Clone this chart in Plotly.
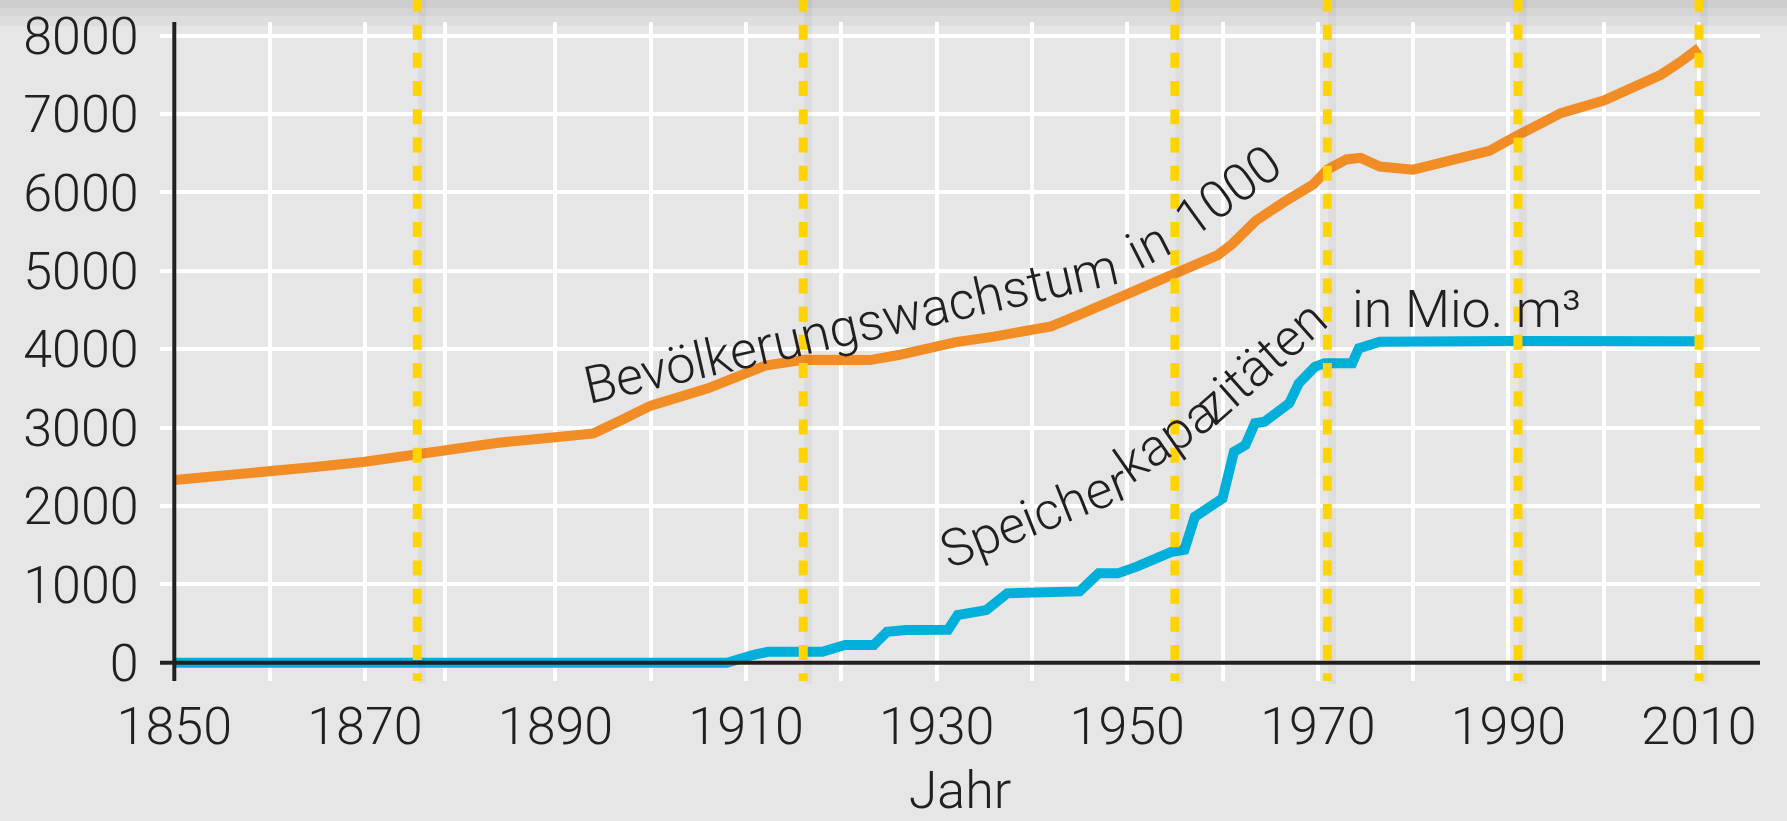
import plotly.graph_objects as go

# ---------------- data ----------------
pop_years = [1850, 1855, 1860, 1865, 1870, 1875, 1878, 1884, 1890, 1894, 1897,
             1900, 1906, 1912, 1916, 1923, 1926, 1932, 1936, 1942, 1945, 1950,
             1955, 1959.5, 1961, 1963.5, 1966.5, 1969.5, 1971, 1973, 1974.5,
             1976.5, 1980, 1984, 1988, 1991, 1995.5, 2000, 2002, 2006, 2008, 2010]
pop_values = [2330, 2380, 2436, 2500, 2564, 2658, 2710, 2806, 2875, 2926, 3100,
              3280, 3500, 3790, 3865, 3860, 3925, 4090, 4160, 4290, 4440, 4700,
              4980, 5200, 5340, 5640, 5880, 6100, 6290, 6420, 6440,
              6330, 6290, 6400, 6530, 6730, 7010, 7170, 7290, 7500, 7660, 7840]

cap_years = [1850, 1908, 1910.7, 1912.3, 1918, 1920.4, 1923.4, 1924.8, 1926.8,
             1931.2, 1932.2, 1935.2, 1937.4, 1945, 1947, 1949, 1951, 1952.8,
             1954.7, 1956, 1957.1, 1960, 1961.2, 1962.4, 1963.4, 1964.4, 1965.6,
             1967, 1968, 1969.7, 1970.7, 1973.6, 1974.3, 1976.5, 1990, 2010]
cap_values = [0, 0, 98, 140, 140, 226, 226, 395, 417,
              420, 608, 672, 885, 910, 1140, 1140, 1225, 1310,
              1416, 1440, 1862, 2097, 2691, 2777, 3054, 3074, 3202,
              3309, 3564, 3776, 3819, 3819, 4010, 4094, 4105, 4100]

event_years = [1875.5, 1916, 1955, 1971, 1991, 2010]

grid_years = [1850, 1860, 1870, 1878.4, 1890, 1900, 1910, 1920, 1930, 1940,
              1950, 1960, 1970, 1980, 1990, 2000, 2010]
label_years = [1850, 1870, 1890, 1910, 1930, 1950, 1970, 1990, 2010]
y_ticks = [0, 1000, 2000, 3000, 4000, 5000, 6000, 7000, 8000]

x_title = "Jahr"

# ---------------- styling ----------------
BG = "#e6e6e6"
ORANGE = "#f28c24"
BLUE = "#00b0da"
YELLOW = "#ffd400"
TXT = "#231f20"
FONT = "Roboto"
FS = 52

fig = go.Figure()
fig.add_trace(go.Scatter(x=cap_years, y=cap_values, mode="lines",
                         line=dict(color=BLUE, width=10), hoverinfo="skip"))
fig.add_trace(go.Scatter(x=pop_years, y=pop_values, mode="lines",
                         line=dict(color=ORANGE, width=10), hoverinfo="skip"))

tick_text = [str(int(v)) if v in label_years else "" for v in grid_years]

shapes = []
# soft top shadow
for y0 in [1.021, 1.009, 0.994]:
    shapes.append(dict(type="rect", xref="paper", yref="paper", x0=-0.11, x1=1.03,
                       y0=y0, y1=1.04, fillcolor="rgba(0,0,0,0.035)",
                       line=dict(width=0), layer="below"))
# black axis lines
shapes.append(dict(type="line", xref="x", yref="paper", x0=1850, x1=1850, y0=0, y1=1,
                   line=dict(color=TXT, width=4)))
shapes.append(dict(type="line", xref="paper", yref="y", x0=0, x1=1, y0=0, y1=0,
                   line=dict(color=TXT, width=4)))
# yellow dashed event lines with faint shadow
for yr in event_years:
    shapes.append(dict(type="line", xref="x", yref="paper", x0=yr + 0.5, x1=yr + 0.5,
                       y0=1.0388, y1=-0.004,
                       line=dict(color="rgba(0,0,0,0.035)", width=8)))
    shapes.append(dict(type="line", xref="x", yref="paper", x0=yr, x1=yr,
                       y0=1.0388, y1=0.0,
                       line=dict(color=YELLOW, width=9, dash="15px,13.2px")))

labels = [
    ("Bevölkerungswachstum", 1921.0, 4290, -12.8),
    ("in", 1952.2, 5328, -27),
    ("1000", 1960.6, 6008, -36),
    ("Speicher", 1940.3, 1870, -21.7),
    ("kapa", 1954.1, 2860, -35),
    ("zitäten", 1964.0, 3835, -41.5),
    ("in Mio. m³", 1985.6, 4500, 0),
]
annotations = []
for txt, ax_, ay_, ang in labels:
    annotations.append(dict(text=txt, x=ax_, y=ay_, xref="x", yref="y",
                            showarrow=False, textangle=ang,
                            xanchor="center", yanchor="middle",
                            font=dict(family=FONT, size=FS, color=TXT, weight=300)))

fig.update_layout(
    width=1787, height=821,
    margin=dict(l=160, r=27, t=22, b=140, autoexpand=False),
    paper_bgcolor=BG, plot_bgcolor=BG,
    showlegend=False,
    font=dict(family=FONT, size=FS, color=TXT, weight=300),
    shapes=shapes,
    annotations=annotations,
    xaxis=dict(range=[1848.5, 2016.4], tickmode="array", tickvals=grid_years,
               ticktext=tick_text, showgrid=True, gridcolor="white", gridwidth=4,
               zeroline=False, showline=False, ticks="outside", ticklen=0,
               tickcolor="rgba(0,0,0,0)", automargin=False,
               tickfont=dict(family=FONT, size=FS, color=TXT, weight=300),
               title=dict(text=x_title, standoff=36,
                          font=dict(family=FONT, size=FS, color=TXT, weight=300))),
    yaxis=dict(range=[-233, 8173], tickmode="array", tickvals=y_ticks,
               showgrid=True, gridcolor="white", gridwidth=4,
               zeroline=False, showline=False, ticks="outside", ticklen=10,
               tickcolor="rgba(0,0,0,0)", automargin=False,
               tickfont=dict(family=FONT, size=FS, color=TXT, weight=300)),
)

fig.write_html("out.html", config={"displayModeBar": False},
               post_script="document.body.style.margin='0';document.body.style.overflow='hidden';")
